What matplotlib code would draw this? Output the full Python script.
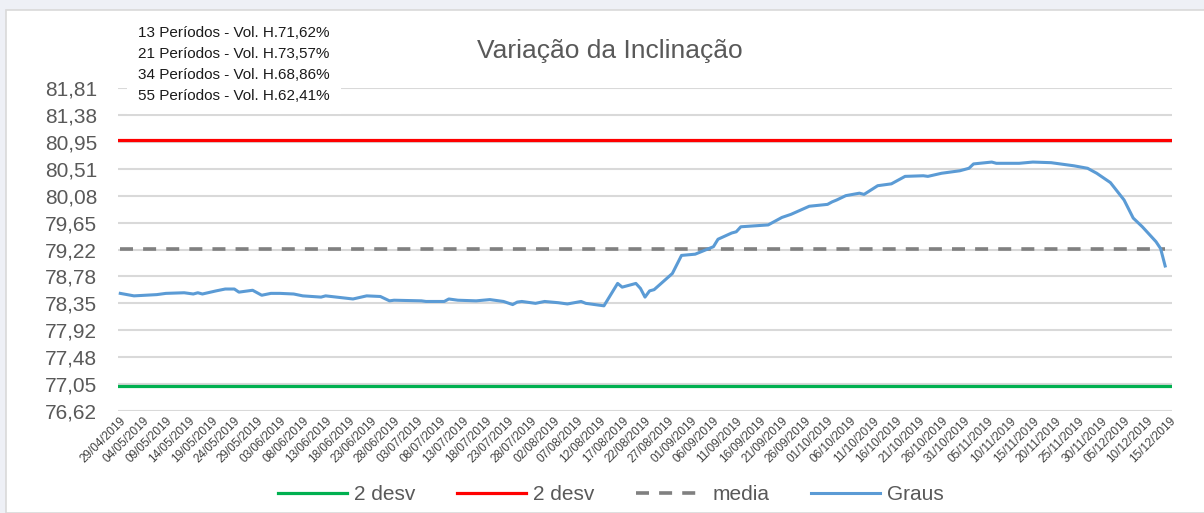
"""
Variação da Inclinação — série diária (Graus) com média e bandas de 2 desvios.
"""

import matplotlib.pyplot as plt
import matplotlib.dates as mdates
import numpy as np
import pandas as pd
from matplotlib.patches import Rectangle
from matplotlib.ticker import FixedLocator, FixedFormatter

# Fonte parecida com a do Excel
plt.rcParams["font.family"] = ["Liberation Sans", "DejaVu Sans"]

# =============================================================================
# Dados
# =============================================================================

datas = [
    "2019-04-29", "2019-05-02", "2019-05-07", "2019-05-09", "2019-05-13",
    "2019-05-15", "2019-05-16", "2019-05-17", "2019-05-20", "2019-05-22",
    "2019-05-24", "2019-05-25", "2019-05-28", "2019-05-30", "2019-06-01",
    "2019-06-03", "2019-06-06", "2019-06-08", "2019-06-12", "2019-06-13",
    "2019-06-19", "2019-06-22", "2019-06-25", "2019-06-27", "2019-06-28",
    "2019-07-04", "2019-07-05", "2019-07-09", "2019-07-10", "2019-07-12",
    "2019-07-16", "2019-07-19", "2019-07-22", "2019-07-24", "2019-07-25",
    "2019-07-26", "2019-07-29", "2019-07-31", "2019-08-03", "2019-08-05",
    "2019-08-08", "2019-08-09", "2019-08-13", "2019-08-16", "2019-08-17",
    "2019-08-20", "2019-08-21", "2019-08-22", "2019-08-23", "2019-08-24",
    "2019-08-28", "2019-08-30", "2019-09-02", "2019-09-06", "2019-09-07",
    "2019-09-10", "2019-09-11", "2019-09-12", "2019-09-18", "2019-09-21",
    "2019-09-23", "2019-09-27", "2019-10-01", "2019-10-02", "2019-10-03",
    "2019-10-05", "2019-10-08", "2019-10-09", "2019-10-12", "2019-10-15",
    "2019-10-16", "2019-10-18", "2019-10-22", "2019-10-23", "2019-10-26",
    "2019-10-30", "2019-11-01", "2019-11-02", "2019-11-06", "2019-11-07",
    "2019-11-12", "2019-11-15", "2019-11-19", "2019-11-24", "2019-11-27",
    "2019-11-29", "2019-12-02", "2019-12-05", "2019-12-07", "2019-12-09",
    "2019-12-12", "2019-12-13", "2019-12-14",
]

graus = [
    78.51, 78.47, 78.49, 78.51, 78.52,
    78.50, 78.52, 78.50, 78.55, 78.58,
    78.58, 78.53, 78.56, 78.48, 78.51,
    78.51, 78.50, 78.47, 78.45, 78.47,
    78.42, 78.47, 78.46, 78.39, 78.40,
    78.39, 78.38, 78.38, 78.42, 78.40,
    78.39, 78.41, 78.38, 78.33, 78.37,
    78.38, 78.35, 78.38, 78.36, 78.34,
    78.38, 78.35, 78.31, 78.67, 78.61,
    78.67, 78.59, 78.45, 78.55, 78.57,
    78.83, 79.12, 79.14, 79.26, 79.38,
    79.48, 79.50, 79.58, 79.61, 79.73,
    79.78, 79.91, 79.94, 79.98, 80.01,
    80.08, 80.12, 80.10, 80.24, 80.27,
    80.31, 80.39, 80.40, 80.39, 80.44,
    80.48, 80.52, 80.59, 80.62, 80.60,
    80.60, 80.62, 80.61, 80.56, 80.52,
    80.44, 80.29, 80.01, 79.72, 79.58,
    79.34, 79.23, 78.95,
]

media = 79.22
desv_sup = 80.98
desv_inf = 77.02

y_ticks = [76.62, 77.05, 77.48, 77.92, 78.35, 78.78, 79.22,
           79.65, 80.08, 80.51, 80.95, 81.38, 81.81]
y_labels = ["76,62", "77,05", "77,48", "77,92", "78,35", "78,78", "79,22",
            "79,65", "80,08", "80,51", "80,95", "81,38", "81,81"]

inicio_eixo = "2019-04-29"
fim_eixo = "2019-12-15"

volatilidades = [
    "13 Períodos - Vol. H.71,62%",
    "21 Períodos - Vol. H.73,57%",
    "34 Períodos - Vol. H.68,86%",
    "55 Períodos - Vol. H.62,41%",
]

# =============================================================================
# Gráfico
# =============================================================================

W, H = 1204, 513
fig = plt.figure(figsize=(W / 100, H / 100), dpi=100, facecolor="#eef0f6")

# moldura branca do gráfico (captura do Excel)
fig.patches.append(Rectangle((6 / W, 0), 1.0, 1 - 10 / H, transform=fig.transFigure,
                             facecolor="white", edgecolor="#d9d9d9", lw=1.2, zorder=-5))

ax = fig.add_axes([118 / W, 1 - 411 / H, (1172 - 118) / W, (411 - 88) / H])
ax.set_facecolor("none")

x = pd.to_datetime(datas)
x0 = pd.Timestamp(inicio_eixo)
x1 = pd.Timestamp(fim_eixo)

l_inf = ax.axhline(desv_inf, color="#00b050", lw=2.3, zorder=3)
l_sup = ax.axhline(desv_sup, color="#ff0000", lw=2.3, zorder=3)
l_med, = ax.plot([x[0], x[-1]], [media, media], color="#808080", lw=2.6,
                 dashes=(3.6, 2.8), zorder=3)
l_graus, = ax.plot(x, graus, color="#5b9bd5", lw=2.2, zorder=4)

ax.set_xlim(x0 - pd.Timedelta(hours=12), x1 + pd.Timedelta(hours=12))
ax.set_ylim(y_ticks[0], y_ticks[-1])

# eixo y
ax.yaxis.set_major_locator(FixedLocator(np.linspace(y_ticks[0], y_ticks[-1], len(y_ticks))))
ax.yaxis.set_major_formatter(FixedFormatter(y_labels))
ax.grid(axis="y", color="#d9d9d9", lw=1.5, zorder=1)
ax.tick_params(axis="y", length=0, pad=15, labelsize=15, labelcolor="#595959")

# eixo x: uma marca a cada 5 dias
ticks_x = pd.date_range(x0, x1, freq="5D")
ax.set_xticks(ticks_x)
ax.xaxis.set_major_formatter(mdates.DateFormatter("%d/%m/%Y"))
ax.tick_params(axis="x", length=0, pad=3, labelsize=8.5, labelcolor="#404040")
for lab in ax.get_xticklabels():
    lab.set_rotation(45)
    lab.set_ha("right")
    lab.set_rotation_mode("anchor")

for s in ax.spines.values():
    s.set_visible(False)

# título
fig.text(610 / W, 1 - 51 / H, "Variação da Inclinação", ha="center", va="center",
         fontsize=19, color="#595959")

# caixa de volatilidades
fig.text(138 / W, 1 - 64.5 / H, "\n".join(volatilidades), ha="left", va="center",
         fontsize=11, color="#1a1a1a", linespacing=1.65,
         bbox=dict(facecolor="white", edgecolor="none", pad=8))

# legenda
fig.legend([l_inf, l_sup, l_med, l_graus], ["2 desv", "2 desv", "media", "Graus"],
           loc="center", bbox_to_anchor=(611 / W, 1 - 495 / H), ncol=4,
           frameon=False, fontsize=15, labelcolor="#595959",
           handlelength=3.3, handletextpad=0.35, columnspacing=2.0)

fig.savefig("out.png", dpi=100, facecolor=fig.get_facecolor())
